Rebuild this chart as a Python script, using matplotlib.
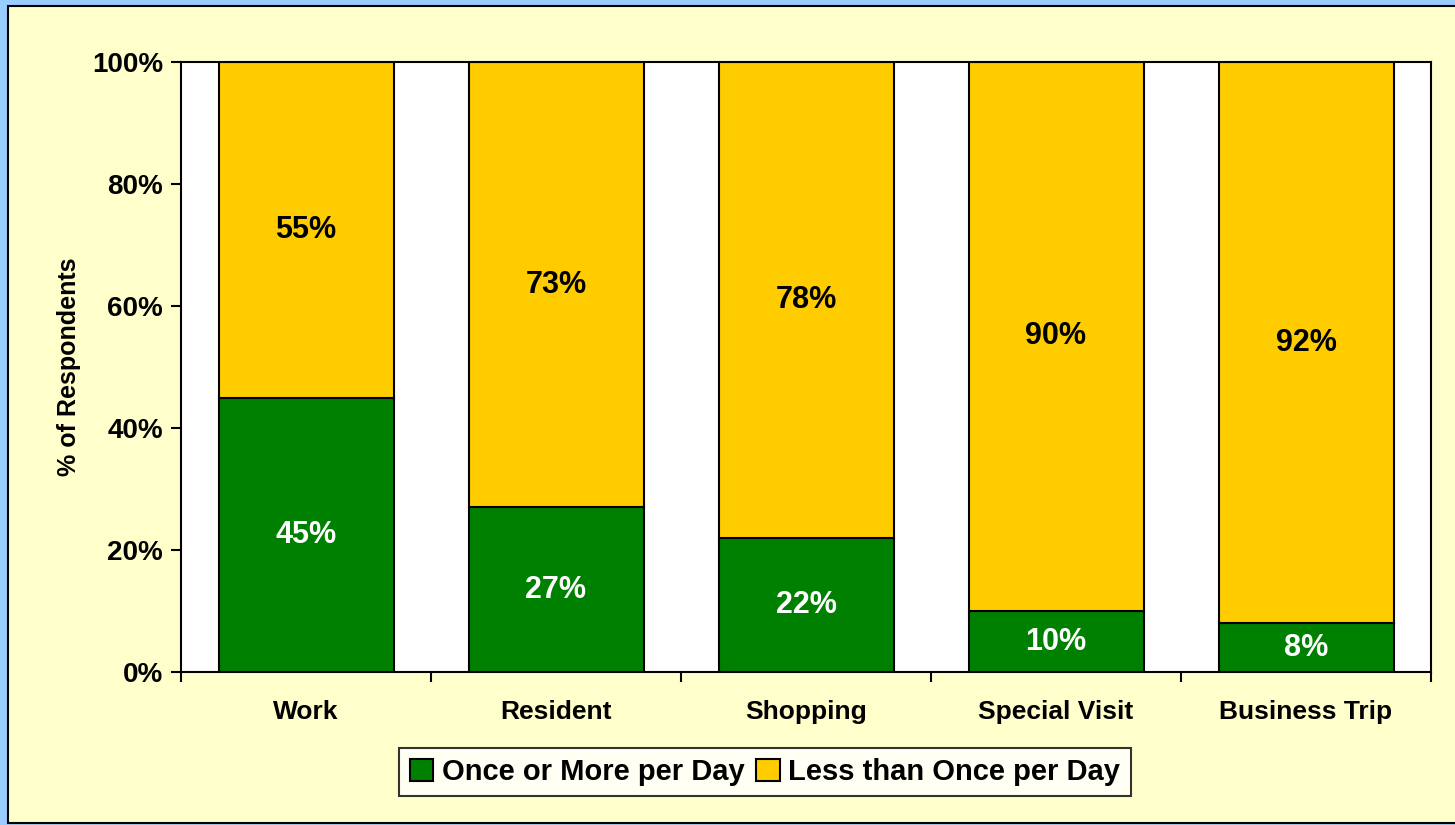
import numpy as np
import matplotlib.pyplot as plt
from matplotlib.patches import Rectangle

plt.rcParams['font.family'] = ['Liberation Sans', 'DejaVu Sans']
plt.rcParams['font.weight'] = 'bold'

categories = ["Work", "Resident", "Shopping", "Special Visit", "Business Trip"]
once_more = [45, 27, 22, 10, 8]
less_once = [55, 73, 78, 90, 92]
series_names = ["Once or More per Day", "Less than Once per Day"]

green = "#008000"
gold = "#FFCC00"

fig = plt.figure(figsize=(14.55, 8.25), dpi=100, facecolor="#99CCFF")
# pale yellow panel inside the blue frame
fig.patches.append(Rectangle((8 / 1455, 2 / 825), 1.0, 1 - 8 / 825,
                             transform=fig.transFigure, facecolor="#FFFFCC",
                             edgecolor="black", linewidth=1.5, zorder=-1))

ax = fig.add_axes([181 / 1455, 1 - 672 / 825, 1250 / 1455, 610 / 825])
ax.set_facecolor("white")

x = np.arange(len(categories))
w = 0.70
b1 = ax.bar(x, once_more, w, color=green, edgecolor="black", linewidth=1.5,
            label=series_names[0])
b2 = ax.bar(x, less_once, w, bottom=once_more, color=gold, edgecolor="black",
            linewidth=1.5, label=series_names[1])

for i in range(len(categories)):
    ax.text(x[i], once_more[i] / 2, f"{once_more[i]}%", ha="center", va="center",
            color="white", fontsize=22, fontweight="bold")
    ax.text(x[i], once_more[i] + less_once[i] / 2, f"{less_once[i]}%",
            ha="center", va="center", color="black", fontsize=22,
            fontweight="bold")

ax.set_xlim(-0.5, len(categories) - 0.5)
ax.set_ylim(0, 100)
ax.set_yticks(np.arange(0, 101, 20))
ax.set_yticklabels([f"{v}%" for v in range(0, 101, 20)], fontsize=20,
                   fontweight="bold")
ax.set_xticks(x)
ax.set_xticklabels(categories, fontsize=19, fontweight="bold")
ax.set_xticks(np.arange(len(categories) + 1) - 0.5, minor=True)
ax.tick_params(axis="x", which="major", length=0, pad=20)
ax.tick_params(axis="x", which="minor", length=7, width=1.5, direction="out")
ax.tick_params(axis="y", length=7, width=1.5, direction="out", pad=6)
for s in ax.spines.values():
    s.set_linewidth(1.5)
    s.set_color("black")

ax.set_ylabel("% of Respondents", fontsize=18, fontweight="bold", labelpad=8)

leg = fig.legend(handles=[b1, b2], loc="center",
                 bbox_to_anchor=(765 / 1455, 1 - 772 / 825), ncol=2,
                 fontsize=21, frameon=True, fancybox=False, edgecolor="black",
                 handlelength=0.8, handleheight=0.8, handletextpad=0.3,
                 columnspacing=0.4, borderpad=0.35)
leg.get_frame().set_linewidth(1.5)
for t in leg.get_texts():
    t.set_fontweight("bold")

fig.savefig("out.png", dpi=100, facecolor=fig.get_facecolor())
